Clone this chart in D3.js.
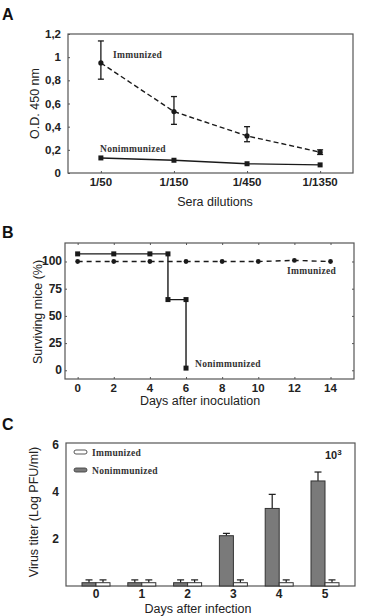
<!DOCTYPE html>
<html>
<head>
<meta charset="utf-8">
<script src="https://cdn.jsdelivr.net/npm/d3@7"></script>
<style>
  body { margin: 0; background: #fff; }
  svg { display: block; font-family: "Liberation Sans", Arial, sans-serif; }
  .tick-label { font-size: 11px; font-weight: bold; fill: #222; }
  .axis-title { font-size: 12.5px; fill: #222; }
  .series-label { font-family: "Liberation Serif", serif; font-size: 9.5px; font-weight: bold; fill: #333; letter-spacing: 0.3px; }
  .panel-letter { font-size: 16px; font-weight: bold; fill: #111; }
</style>
</head>
<body>
<div id="chart"></div>
<script>
// --------------------------------------
//  Data
// --------------------------------------

// panel A
const dilutions = ["1/50", "1/150", "1/450", "1/1350"];
const odImmunized = [0.95, 0.53, 0.32, 0.18];
const odImmunizedLow = [0.81, 0.42, 0.27, 0.16];
const odImmunizedHigh = [1.14, 0.66, 0.40, 0.20];
const odNonimmunized = [0.13, 0.11, 0.08, 0.07];
const odTicks = [0, 0.2, 0.4, 0.6, 0.8, 1, 1.2];
const odTickLabels = ["0", "0,2", "0,4", "0,6", "0,8", "1", "1,2"];

// panel B
const immDays = [0, 2, 4, 6, 8, 10, 12, 14];
const immSurvival = [100, 100, 100, 100, 100, 100, 101, 100];
const nonDays = [0, 2, 4, 5, 5, 6, 6];
const nonSurvival = [107, 107, 107, 107, 65, 65, 2];
const survTicks = [0, 25, 50, 75, 100];
const dayTicks = [0, 2, 4, 6, 8, 10, 12, 14];

// panel C
const infDays = ["0", "1", "2", "3", "4", "5"];
const titerNonimmunized = [0.14, 0.14, 0.14, 2.14, 3.3, 4.47];
const titerNonimmunizedErr = [0.12, 0.12, 0.12, 0.1, 0.6, 0.38];
const titerImmunized = [0.14, 0.14, 0.14, 0.14, 0.14, 0.14];
const titerImmunizedErr = [0.12, 0.12, 0.12, 0.12, 0.12, 0.12];
const titerTicks = [2, 4, 6];

// --------------------------------------
//  Canvas
// --------------------------------------

const width = 365;
const height = 616;

const svg = d3.select("#chart")
  .append("svg")
    .attr("width", width)
    .attr("height", height)
    .attr("viewBox", `0, 0, ${width}, ${height}`);

const ink = "#1a1a1a";

function frame(g, x0, x1, y0, y1) {
  g.append("rect")
    .attr("x", x0).attr("y", y0)
    .attr("width", x1 - x0).attr("height", y1 - y0)
    .attr("fill", "none")
    .attr("stroke", "#555")
    .attr("stroke-width", 1.2);
}

// --------------------------------------
//  Panel A
// --------------------------------------

const A = {left: 68, right: 353, top: 34, bottom: 173};
const gA = svg.append("g");

const xA = d3.scalePoint()
  .domain(dilutions)
  .range([A.left, A.right])
  .padding(0.45);

const yA = d3.scaleLinear()
  .domain([0, 1.2])
  .range([A.bottom, A.top]);

frame(gA, A.left, A.right, A.top, A.bottom);

gA.append("g")
  .attr("transform", `translate(${A.left}, 0)`)
  .call(d3.axisRight(yA).tickValues(odTicks).tickSize(2).tickFormat(""))
  .call(g => g.select(".domain").remove())
  .call(g => g.selectAll("line").attr("stroke", "#555"));

gA.selectAll(".ya-label")
  .data(odTicks)
  .join("text")
    .attr("class", "tick-label")
    .style("font-size", "11.5px")
    .attr("x", A.left - 7)
    .attr("y", d => yA(d) + 4)
    .attr("text-anchor", "end")
    .text((d, i) => odTickLabels[i]);

gA.append("g")
  .attr("transform", `translate(0, ${A.bottom})`)
  .call(d3.axisTop(xA).tickSize(2).tickFormat(""))
  .call(g => g.select(".domain").remove())
  .call(g => g.selectAll("line").attr("stroke", "#555"));

gA.selectAll(".xa-label")
  .data(dilutions)
  .join("text")
    .attr("class", "tick-label")
    .style("font-size", "11.5px")
    .attr("x", d => xA(d))
    .attr("y", A.bottom + 13)
    .attr("text-anchor", "middle")
    .text(d => d);

const lineA = d3.line()
  .x((d, i) => xA(dilutions[i]))
  .y(d => yA(d));

gA.append("path")
  .attr("d", lineA(odImmunized))
  .attr("fill", "none")
  .attr("stroke", ink)
  .attr("stroke-width", 1.4)
  .attr("stroke-dasharray", "5,3");

gA.append("path")
  .attr("d", lineA(odNonimmunized))
  .attr("fill", "none")
  .attr("stroke", ink)
  .attr("stroke-width", 1.4);

// error bars
const errA = gA.selectAll(".err-a")
  .data(dilutions)
  .join("g");

errA.append("line")
  .attr("x1", d => xA(d)).attr("x2", d => xA(d))
  .attr("y1", (d, i) => yA(odImmunizedLow[i]))
  .attr("y2", (d, i) => yA(odImmunizedHigh[i]))
  .attr("stroke", ink).attr("stroke-width", 1.3);

errA.append("line")
  .attr("x1", d => xA(d) - 3).attr("x2", d => xA(d) + 3)
  .attr("y1", (d, i) => yA(odImmunizedLow[i]))
  .attr("y2", (d, i) => yA(odImmunizedLow[i]))
  .attr("stroke", ink).attr("stroke-width", 1.3);

errA.append("line")
  .attr("x1", d => xA(d) - 3).attr("x2", d => xA(d) + 3)
  .attr("y1", (d, i) => yA(odImmunizedHigh[i]))
  .attr("y2", (d, i) => yA(odImmunizedHigh[i]))
  .attr("stroke", ink).attr("stroke-width", 1.3);

gA.selectAll(".pt-imm")
  .data(odImmunized)
  .join("circle")
    .attr("cx", (d, i) => xA(dilutions[i]))
    .attr("cy", d => yA(d))
    .attr("r", 2.6)
    .attr("fill", ink);

gA.selectAll(".pt-non")
  .data(odNonimmunized)
  .join("rect")
    .attr("x", (d, i) => xA(dilutions[i]) - 2.5)
    .attr("y", d => yA(d) - 2.5)
    .attr("width", 5)
    .attr("height", 5)
    .attr("fill", ink);

gA.append("text")
  .attr("class", "series-label")
  .attr("x", 113)
  .attr("y", 58)
  .text("Immunized");

gA.append("text")
  .attr("class", "series-label")
  .attr("x", 100)
  .attr("y", 152)
  .text("Nonimmunized");

gA.append("text")
  .attr("class", "axis-title")
  .attr("transform", `translate(39, ${(A.top + A.bottom) / 2}) rotate(-90)`)
  .attr("text-anchor", "middle")
  .text("O.D. 450 nm");

gA.append("text")
  .attr("class", "axis-title")
  .attr("x", 215)
  .attr("y", 206)
  .attr("text-anchor", "middle")
  .text("Sera dilutions");

gA.append("text")
  .attr("class", "panel-letter")
  .attr("x", 2)
  .attr("y", 20)
  .text("A");

// --------------------------------------
//  Panel B
// --------------------------------------

const B = {left: 65, right: 354, top: 243, bottom: 379};
const gB = svg.append("g");

const xB = d3.scaleLinear()
  .domain([-0.7, 15.3])
  .range([B.left, B.right]);

const yB = d3.scaleLinear()
  .domain([-8, 117])
  .range([B.bottom, B.top]);

frame(gB, B.left, B.right, B.top, B.bottom);

gB.append("g")
  .attr("transform", `translate(${B.left}, 0)`)
  .call(d3.axisRight(yB).tickValues(survTicks).tickSize(2).tickFormat(""));
gB.append("g")
  .attr("transform", `translate(${B.right}, 0)`)
  .call(d3.axisLeft(yB).tickValues(survTicks).tickSize(2).tickFormat(""));
gB.append("g")
  .attr("transform", `translate(0, ${B.bottom})`)
  .call(d3.axisTop(xB).tickValues(dayTicks).tickSize(2).tickFormat(""));
gB.append("g")
  .attr("transform", `translate(0, ${B.top})`)
  .call(d3.axisBottom(xB).tickValues(dayTicks).tickSize(2).tickFormat(""));
gB.selectAll(".domain").remove();
gB.selectAll(".tick line").attr("stroke", "#555");

gB.selectAll(".yb-label")
  .data(survTicks)
  .join("text")
    .attr("class", "tick-label")
    .style("font-size", "12px")
    .attr("x", B.left - 3)
    .attr("y", d => yB(d) + 4)
    .attr("text-anchor", "end")
    .text(d => d);

gB.selectAll(".xb-label")
  .data(dayTicks)
  .join("text")
    .attr("class", "tick-label")
    .style("font-size", "11.5px")
    .attr("x", d => xB(d))
    .attr("y", B.bottom + 13)
    .attr("text-anchor", "middle")
    .text(d => d);

const lineB = d3.line()
  .x(d => xB(d[0]))
  .y(d => yB(d[1]));

const immPts = immDays.map((d, i) => [d, immSurvival[i]]);
const nonPts = nonDays.map((d, i) => [d, nonSurvival[i]]);

gB.append("path")
  .attr("d", lineB(immPts))
  .attr("fill", "none")
  .attr("stroke", ink)
  .attr("stroke-width", 1.4)
  .attr("stroke-dasharray", "5,4");

gB.append("path")
  .attr("d", lineB(nonPts))
  .attr("fill", "none")
  .attr("stroke", ink)
  .attr("stroke-width", 1.4);

gB.selectAll(".pt-imm-b")
  .data(immPts)
  .join("circle")
    .attr("cx", d => xB(d[0]))
    .attr("cy", d => yB(d[1]))
    .attr("r", 2.4)
    .attr("fill", ink);

gB.selectAll(".pt-non-b")
  .data(nonPts)
  .join("rect")
    .attr("x", d => xB(d[0]) - 2.5)
    .attr("y", d => yB(d[1]) - 2.5)
    .attr("width", 5)
    .attr("height", 5)
    .attr("fill", ink);

gB.append("text")
  .attr("class", "series-label")
  .attr("x", 287)
  .attr("y", 274)
  .text("Immunized");

gB.append("text")
  .attr("class", "series-label")
  .attr("x", 195)
  .attr("y", 367)
  .text("Nonimmunized");

gB.append("text")
  .attr("class", "axis-title")
  .attr("transform", `translate(42, 312) rotate(-90)`)
  .attr("text-anchor", "middle")
  .text("Surviving mice (%)");

gB.append("text")
  .attr("class", "axis-title")
  .attr("x", 200)
  .attr("y", 405)
  .attr("text-anchor", "middle")
  .text("Days after inoculation");

gB.append("text")
  .attr("class", "panel-letter")
  .attr("x", 2)
  .attr("y", 238)
  .text("B");

// --------------------------------------
//  Panel C
// --------------------------------------

const C = {left: 66, right: 355, top: 443, bottom: 586};
const gC = svg.append("g");

const xC = d3.scalePoint()
  .domain(infDays)
  .range([C.left, C.right])
  .padding(0.655);

const yC = d3.scaleLinear()
  .domain([0, 6])
  .range([C.bottom, 445]);

frame(gC, C.left, C.right, C.top, C.bottom);

gC.selectAll(".yc-label")
  .data(titerTicks)
  .join("text")
    .attr("class", "tick-label")
    .style("font-size", "12px")
    .attr("x", C.left - 7)
    .attr("y", d => yC(d) + 4)
    .attr("text-anchor", "end")
    .text(d => d);

gC.selectAll(".xc-label")
  .data(infDays)
  .join("text")
    .attr("class", "tick-label")
    .style("font-size", "12px")
    .attr("x", d => xC(d))
    .attr("y", C.bottom + 12)
    .attr("text-anchor", "middle")
    .text(d => d);

const barW = 14;

function barsWithErr(values, errs, offset, fill) {
  const g = gC.append("g");
  g.selectAll("line.stem")
    .data(values)
    .join("line")
      .attr("class", "stem")
      .attr("x1", (d, i) => xC(infDays[i]) + offset + barW / 2)
      .attr("x2", (d, i) => xC(infDays[i]) + offset + barW / 2)
      .attr("y1", d => yC(d))
      .attr("y2", (d, i) => yC(d + errs[i]))
      .attr("stroke", ink).attr("stroke-width", 1.2);
  g.selectAll("line.cap")
    .data(values)
    .join("line")
      .attr("class", "cap")
      .attr("x1", (d, i) => xC(infDays[i]) + offset + barW / 2 - 3.5)
      .attr("x2", (d, i) => xC(infDays[i]) + offset + barW / 2 + 3.5)
      .attr("y1", (d, i) => yC(d + errs[i]))
      .attr("y2", (d, i) => yC(d + errs[i]))
      .attr("stroke", ink).attr("stroke-width", 1.2);
  g.selectAll("rect")
    .data(values)
    .join("rect")
      .attr("x", (d, i) => xC(infDays[i]) + offset)
      .attr("y", d => yC(d))
      .attr("width", barW)
      .attr("height", d => yC(0) - yC(d))
      .attr("fill", fill)
      .attr("stroke", "#333")
      .attr("stroke-width", 1);
}

barsWithErr(titerNonimmunized, titerNonimmunizedErr, -barW, "#7a7a7a");
barsWithErr(titerImmunized, titerImmunizedErr, 0, "#fff");

// legend
const legend = [
  {label: "Immunized", fill: "#fff", y: 452},
  {label: "Nonimmunized", fill: "#7a7a7a", y: 470}
];

const lg = gC.selectAll(".legend")
  .data(legend)
  .join("g");

lg.append("rect")
  .attr("x", 74)
  .attr("y", d => d.y - 2)
  .attr("width", 13)
  .attr("height", 4)
  .attr("rx", 2)
  .attr("fill", d => d.fill)
  .attr("stroke", "#444")
  .attr("stroke-width", 0.9);

lg.append("text")
  .attr("class", "series-label")
  .attr("x", 92)
  .attr("y", d => d.y + 3.5)
  .text(d => d.label);

gC.append("text")
  .attr("class", "tick-label")
  .style("font-size", "11px")
  .attr("x", 325)
  .attr("y", 459)
  .html('10<tspan dy="-4" font-size="8px">3</tspan>');

gC.append("text")
  .attr("class", "axis-title")
  .attr("transform", `translate(38, 512) rotate(-90)`)
  .attr("text-anchor", "middle")
  .text("Virus titer (Log PFU/ml)");

gC.append("text")
  .attr("class", "axis-title")
  .attr("x", 198)
  .attr("y", 613)
  .attr("text-anchor", "middle")
  .text("Days after infection");

gC.append("text")
  .attr("class", "panel-letter")
  .attr("x", 2)
  .attr("y", 430)
  .text("C");
</script>
</body>
</html>
